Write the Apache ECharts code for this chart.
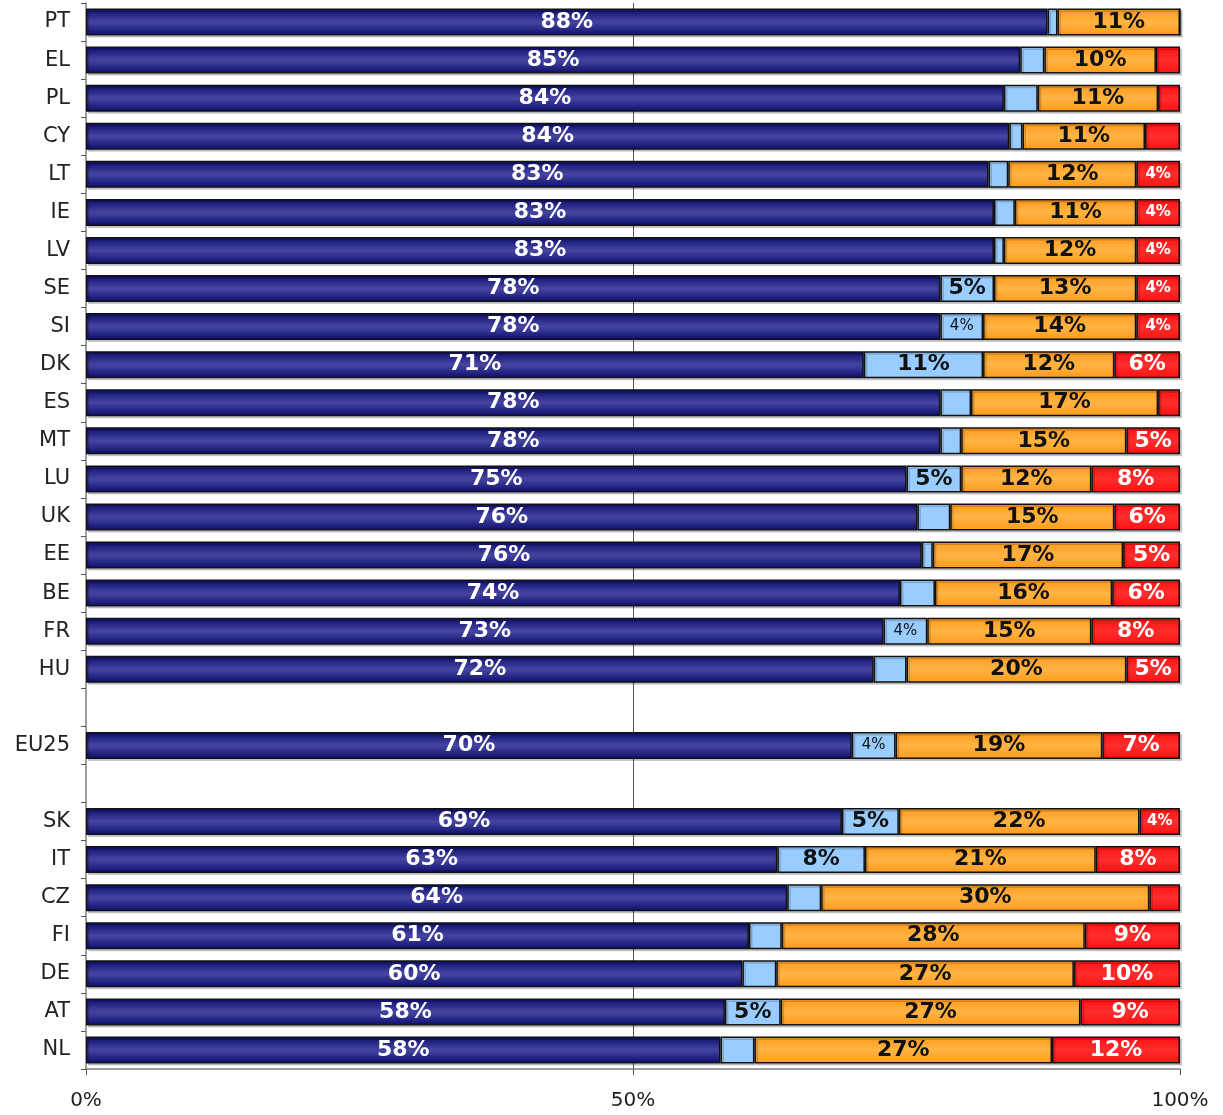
<!DOCTYPE html>
<html>
<head>
<meta charset="utf-8">
<script src="https://cdn.jsdelivr.net/npm/echarts@6/dist/echarts.min.js"></script>
<style>
  html, body { margin: 0; background: #fff; }
  #chart { width: 1223px; height: 1115px; }
</style>
</head>
<body>
<div id="chart"></div>
<script>
// categories, top to bottom ('' rows are the blank spacers around EU25)
const countries = ['PT', 'EL', 'PL', 'CY', 'LT', 'IE', 'LV', 'SE', 'SI', 'DK', 'ES', 'MT', 'LU', 'UK', 'EE', 'BE', 'FR', 'HU',
  ' ', 'EU25', '  ', 'SK', 'IT', 'CZ', 'FI', 'DE', 'AT', 'NL']

// shares in %
const navyShare = [87.9, 85.4, 83.9, 84.4, 82.5, 83.0, 83.0, 78.1, 78.1, 71.1, 78.1, 78.1, 75.0, 76.0, 76.4, 74.4, 72.9, 72.0,
  null, 70.0, null, 69.1, 63.2, 64.1, 60.6, 60.0, 58.4, 58.0]
const lightShare = [0.9, 2.2, 3.1, 1.2, 1.8, 1.9, 0.9, 4.9, 3.9, 10.9, 2.8, 1.9, 5.0, 3.0, 1.0, 3.2, 4.0, 3.0,
  null, 4.0, null, 5.2, 8.0, 3.1, 3.0, 3.1, 5.1, 3.1]
const orangeShare = [11.2, 10.2, 11.0, 11.2, 11.7, 11.1, 12.1, 13.0, 14.0, 12.0, 17.1, 15.1, 11.9, 15.0, 17.4, 16.2, 15.0, 20.1,
  null, 18.9, null, 22.0, 21.1, 30.0, 27.7, 27.2, 27.4, 27.2]
const redShare = [0, 2.2, 2.0, 3.2, 4.0, 4.0, 4.0, 4.0, 4.0, 6.0, 2.0, 4.9, 8.1, 6.0, 5.2, 6.2, 8.1, 4.9,
  null, 7.1, null, 3.7, 7.7, 2.8, 8.7, 9.7, 9.1, 11.7]

const xTicks = [0, 50, 100]

const FONT = 'DejaVu Sans'

const vGrad = (edge, mid) => new echarts.graphic.LinearGradient(0, 0, 0, 1, [
  { offset: 0, color: edge },
  { offset: 0.5, color: mid },
  { offset: 1, color: edge },
])

// one stacked segment; small shares get no label, ~4% gets a small one
const segment = (name, values, fill, textColor, smallBold) => ({
  name,
  type: 'bar',
  stack: 'all',
  barWidth: 27,
  itemStyle: {
    color: fill,
    borderColor: '#111',
    borderWidth: 1.5,
    shadowColor: 'rgba(0,0,0,0.18)',
    shadowOffsetX: 2,
    shadowOffsetY: 2,
  },
  data: values.map(v => {
    if (v == null) return null
    const small = v < 4.5
    return {
      value: v,
      label: {
        show: v >= 3.5,
        fontSize: small ? 15 : 22,
        fontWeight: small && !smallBold ? 'normal' : 'bold',
      },
    }
  }),
  label: {
    position: 'inside',
    color: textColor,
    fontFamily: FONT,
    formatter: p => Math.round(p.value) + '%',
  },
})

const chart = echarts.init(document.getElementById('chart'))

chart.setOption({
  animation: false,
  grid: { left: 86, right: 43, top: 3, bottom: 46 },
  xAxis: {
    type: 'value',
    min: xTicks[0],
    max: xTicks[xTicks.length - 1],
    interval: 50,
    axisLine: { show: true, lineStyle: { color: '#808080', width: 1.5 } },
    axisTick: { show: true, length: 6, lineStyle: { color: '#555' } },
    axisLabel: { formatter: '{value}%', color: '#222', fontFamily: FONT, fontSize: 20, margin: 22 },
    splitLine: { show: true, lineStyle: { color: ['transparent', '#555', 'transparent'], width: 1 } },
  },
  yAxis: {
    type: 'category',
    inverse: true,
    data: countries,
    axisLine: { show: true, lineStyle: { color: '#808080', width: 1.5 } },
    axisTick: { show: true, length: 5, lineStyle: { color: '#555' } },
    axisLabel: { color: '#222', fontFamily: FONT, fontSize: 21, margin: 16 },
  },
  series: [
    segment('navy', navyShare, vGrad('#0c0c6c', '#4646a2'), '#fff', true),
    segment('light', lightShare, '#99ccff', '#111', false),
    segment('orange', orangeShare, vGrad('#ff9a1c', '#ffb444'), '#111', true),
    segment('red', redShare, vGrad('#ff1010', '#ff2e2e'), '#fff', true),
  ],
})
</script>
</body>
</html>
